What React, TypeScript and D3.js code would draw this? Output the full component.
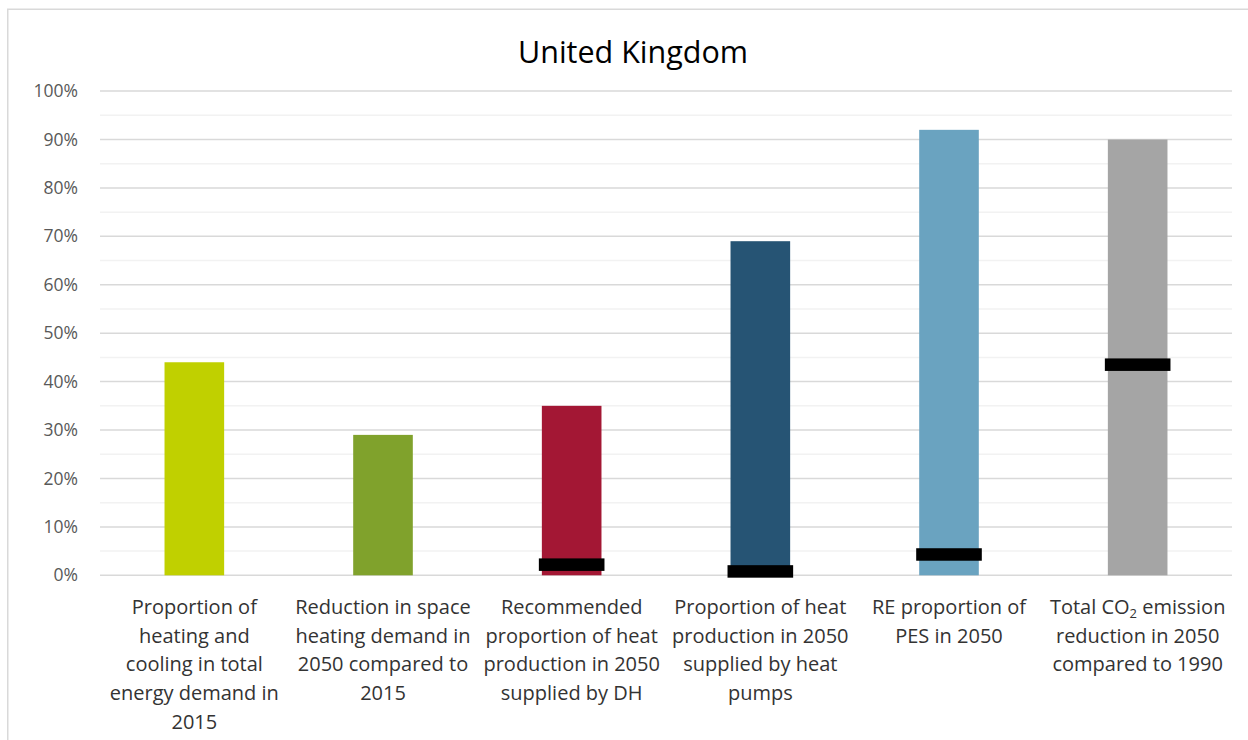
import React from "react";
import * as d3 from "d3";

const categories: string[][] = [
  ["Proportion of", "heating and", "cooling in total", "energy demand in", "2015"],
  ["Reduction in space", "heating demand in", "2050 compared to", "2015"],
  ["Recommended", "proportion of heat", "production in 2050", "supplied by DH"],
  ["Proportion of heat", "production in 2050", "supplied by heat", "pumps"],
  ["RE proportion of", "PES in 2050"],
  ["Total CO\u2082 emission", "reduction in 2050", "compared to 1990"],
];
const barValues: number[] = [0.44, 0.29, 0.35, 0.69, 0.92, 0.9];
const markerValues: (number | null)[] = [null, null, 0.022, 0.008, 0.043, 0.435];
const barColors: string[] = ["#c0d000", "#80a22c", "#a31734", "#265474", "#6aa3c0", "#a5a5a5"];
const majorTicks: number[] = [0, 0.1, 0.2, 0.3, 0.4, 0.5, 0.6, 0.7, 0.8, 0.9, 1.0];
const minorTicks: number[] = [0.05, 0.15, 0.25, 0.35, 0.45, 0.55, 0.65, 0.75, 0.85, 0.95];
const title = "United Kingdom";

const W = 1248;
const H = 740;
const plot = { left: 100, right: 1232, top: 91.1, bottom: 575.3 };
const FONT = "'Open Sans', 'Noto Sans', sans-serif";

function renderLabelLine(line: string) {
  const idx = line.indexOf("\u2082");
  if (idx < 0) return line;
  return (
    <>
      {line.slice(0, idx)}
      <tspan fontSize="13" dy="4">2</tspan>
      <tspan dy="-4">{line.slice(idx + 1)}</tspan>
    </>
  );
}

export default function App() {
  const idx = categories.map((_, i) => String(i));
  const x = d3.scaleBand<string>().domain(idx).range([plot.left, plot.right]).padding(0);
  const y = d3.scaleLinear().domain([0, 1]).range([plot.bottom, plot.top]);
  const bw = x.bandwidth();
  const barW = bw * 0.316;
  const markW = barW + 6;
  const markH = 12.5;
  const fmt = d3.format(".0%");

  return (
    <svg width={W} height={H} style={{ position: "absolute", left: 0, top: 0, display: "block" }}>
      <rect x={0} y={0} width={W} height={H} fill="#ffffff" />
      <rect x={7.75} y={9.25} width={W + 10} height={H + 10} fill="none" stroke="#d9d9d9" strokeWidth={1.5} />
      <text x={633} y={63} textAnchor="middle" fontFamily={FONT} fontSize={30.5} fill="#000000">
        {title}
      </text>
      {minorTicks.map((t) => (
        <line key={"m" + t} x1={plot.left} x2={plot.right} y1={y(t)} y2={y(t)} stroke="#f2f2f2" strokeWidth={1.5} />
      ))}
      {majorTicks.map((t) => (
        <line key={"M" + t} x1={plot.left} x2={plot.right} y1={y(t)} y2={y(t)} stroke="#d9d9d9" strokeWidth={1.5} />
      ))}
      {majorTicks.map((t) => (
        <text key={"l" + t} x={78} y={y(t)} dy="0.35em" textAnchor="end" fontFamily={FONT} fontSize={17.5} fill="#595959">
          {fmt(t)}
        </text>
      ))}
      {barValues.map((v, i) => {
        const cx = (x(String(i)) as number) + bw / 2;
        return (
          <rect key={"b" + i} x={cx - barW / 2} y={y(v)} width={barW} height={y(0) - y(v)} fill={barColors[i]} />
        );
      })}
      {markerValues.map((v, i) => {
        if (v === null) return null;
        const cx = (x(String(i)) as number) + bw / 2;
        return (
          <rect key={"k" + i} x={cx - markW / 2} y={y(v) - markH / 2} width={markW} height={markH} fill="#000000" />
        );
      })}
      {categories.map((lines, i) => {
        const cx = (x(String(i)) as number) + bw / 2;
        return (
          <text key={"c" + i} textAnchor="middle" fontFamily={FONT} fontSize={20} fill="#333333">
            {lines.map((ln, j) => (
              <tspan key={j} x={cx} y={614 + j * 28.7}>
                {renderLabelLine(ln)}
              </tspan>
            ))}
          </text>
        );
      })}
    </svg>
  );
}
